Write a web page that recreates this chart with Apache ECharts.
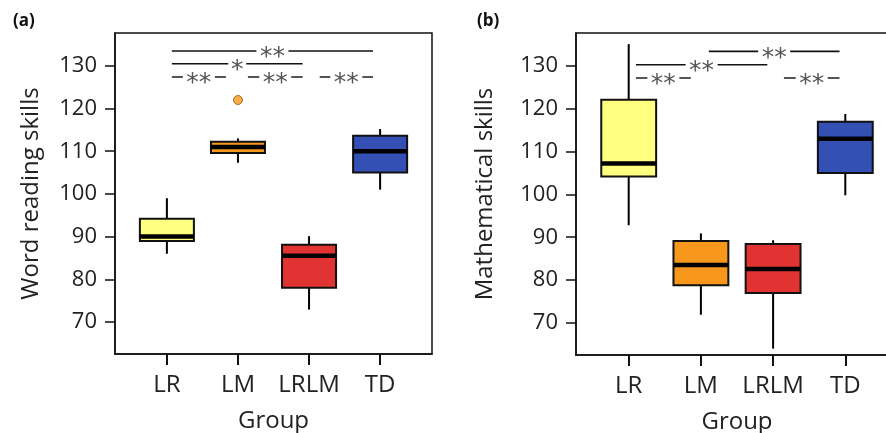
<!DOCTYPE html>
<html>
<head>
<meta charset="utf-8">
<script src="https://cdn.jsdelivr.net/npm/echarts@6/dist/echarts.min.js"></script>
<style>
  html, body { margin: 0; padding: 0; background: #fff; }
  #chart { width: 886px; height: 433px; }
</style>
</head>
<body>
<div id="chart"></div>
<script>
const categories = ['LR', 'LM', 'LRLM', 'TD']
const yTicks = [70, 80, 90, 100, 110, 120, 130]
const boxColors = ['#FFFF80', '#F7981D', '#E23333', '#3450B4']

// [lower whisker, q1, median, q3, upper whisker]
const wordBoxes = [
  [86, 89, 90, 94.2, 99],
  [107.3, 109.6, 111, 112.2, 113],
  [72.9, 78, 85.5, 88.1, 90.1],
  [101, 105, 110, 113.6, 115.2]
]
const wordOutliers = [[2, 122]]

const mathBoxes = [
  [92.8, 104.2, 107.2, 122.1, 135.1],
  [71.9, 78.8, 83.5, 89.1, 90.9],
  [64, 77, 82.6, 88.4, 89.3],
  [99.8, 105, 113, 117, 118.8]
]

// significance bars: [from, to, y, label, row type]
const wordSig = [
  [1.07, 3.9, 133.5, '**', 0],
  [1.07, 2.91, 130.5, '*', 0],
  [1.07, 1.83, 127.4, '**', 1],
  [2.14, 2.91, 127.4, '**', 1],
  [3.15, 3.9, 127.4, '**', 1]
]
const mathSig = [
  [2.11, 3.92, 133.4, '**', 0],
  [1.1, 2.92, 130.3, '**', 0],
  [1.1, 1.86, 127.2, '**', 1],
  [3.15, 3.92, 127.2, '**', 1]
]

const font = 'Open Sans'

const chart = echarts.init(document.getElementById('chart'))

function renderBox(params, api) {
  const x = api.value(0)
  const w = 0.38
  const low = api.coord([x, api.value(1)])
  const q1l = api.coord([x - w, api.value(2)])
  const med = api.value(3)
  const q3r = api.coord([x + w, api.value(4)])
  const high = api.coord([x, api.value(5)])
  const q1 = api.coord([x, api.value(2)])
  const q3 = api.coord([x, api.value(4)])
  const ml = api.coord([x - w, med])
  const mr = api.coord([x + w, med])
  const line = { stroke: '#000', lineWidth: 2 }
  return {
    type: 'group',
    children: [
      { type: 'line', shape: { x1: low[0], y1: low[1], x2: q1[0], y2: q1[1] }, style: line },
      { type: 'line', shape: { x1: q3[0], y1: q3[1], x2: high[0], y2: high[1] }, style: line },
      { type: 'rect', shape: { x: q1l[0], y: q3r[1], width: q3r[0] - q1l[0], height: q1l[1] - q3r[1] },
        style: { fill: boxColors[params.dataIndex], stroke: '#111', lineWidth: 2 } },
      { type: 'line', shape: { x1: ml[0], y1: ml[1], x2: mr[0], y2: mr[1] }, style: { stroke: '#000', lineWidth: 4.5 } }
    ]
  }
}

function renderSig(params, api, labels) {
  const a = api.coord([api.value(0), api.value(2)])
  const b = api.coord([api.value(1), api.value(2)])
  const row = api.value(4)
  const cx = (a[0] + b[0]) / 2
  const label = labels[params.dataIndex]
  const half = label.length * 7 + 2
  return {
    type: 'group',
    children: [
      { type: 'line', shape: { x1: a[0], y1: a[1], x2: b[0], y2: b[1] },
        style: { stroke: row ? '#555' : '#111', lineWidth: row ? 2 : 1.6 } },
      { type: 'rect', shape: { x: cx - half, y: a[1] - 4, width: half * 2, height: 8 }, style: { fill: '#fff' } },
      { type: 'text', x: cx, y: a[1] + 7,
        style: { text: label, fontFamily: 'DejaVu Sans', fontSize: 25, fill: '#555',
          align: 'center', verticalAlign: 'middle' } }
    ]
  }
}

function sigSeries(rows, idx) {
  const labels = rows.map(r => r[3])
  return {
    type: 'custom',
    xAxisIndex: idx, yAxisIndex: idx,
    renderItem: (params, api) => renderSig(params, api, labels),
    data: rows.map(r => [r[0], r[1], r[2], 0, r[4]]),
    z: 5, silent: true
  }
}

function xAxis(idx) {
  return {
    type: 'value', gridIndex: idx, min: 0.27, max: 4.73,
    name: 'Group', nameLocation: 'middle', nameGap: 55,
    nameTextStyle: { fontFamily: font, fontSize: 24, color: '#222' },
    axisLine: { show: true, lineStyle: { color: '#111', width: 1.5 } },
    axisTick: { show: true, length: 11, customValues: [1, 2, 3, 4], lineStyle: { color: '#111', width: 2 } },
    axisLabel: { customValues: [1, 2, 3, 4], margin: 19, fontFamily: font, fontSize: 24, color: '#222',
      formatter: v => categories[Math.round(v) - 1] },
    splitLine: { show: false }
  }
}

function yAxis(idx, name, gap) {
  return {
    type: 'value', gridIndex: idx, min: 62.5, max: 137.7,
    name: name, nameLocation: 'middle', nameGap: gap,
    nameTextStyle: { fontFamily: font, fontSize: 24, color: '#222' },
    axisLine: { show: true, lineStyle: { color: '#111', width: 1.5 } },
    axisTick: { show: true, length: 10, customValues: yTicks, lineStyle: { color: '#111', width: 1.5 } },
    axisLabel: { customValues: yTicks, margin: 18, fontFamily: font, fontSize: 22, color: '#222' },
    splitLine: { show: false }
  }
}

const option = {
  backgroundColor: '#fff',
  animation: false,
  title: [
    { text: '(a)', left: 8, top: 8, textStyle: { fontFamily: font, fontSize: 17, fontWeight: 'bold', color: '#111' } },
    { text: '(b)', left: 472, top: 8, textStyle: { fontFamily: font, fontSize: 17, fontWeight: 'bold', color: '#111' } }
  ],
  grid: [
    { left: 115, top: 33, right: 454, bottom: 79, outerBoundsMode: 'none', show: true, borderColor: '#111', borderWidth: 1.5 },
    { left: 576, top: 33, right: -12, bottom: 78, outerBoundsMode: 'none', show: true, borderColor: '#111', borderWidth: 1.5 }
  ],
  xAxis: [xAxis(0), xAxis(1)],
  yAxis: [yAxis(0, 'Word reading skills', 72), yAxis(1, 'Mathematical skills', 79)],
  series: [
    {
      type: 'custom', xAxisIndex: 0, yAxisIndex: 0, renderItem: renderBox,
      data: wordBoxes.map((b, i) => [i + 1, ...b]), z: 3
    },
    {
      type: 'scatter', xAxisIndex: 0, yAxisIndex: 0, data: wordOutliers,
      symbol: 'circle', symbolSize: 9,
      itemStyle: { color: boxColors[1], borderColor: '#8a5a10', borderWidth: 1 }, z: 4
    },
    {
      type: 'custom', xAxisIndex: 1, yAxisIndex: 1, renderItem: renderBox,
      data: mathBoxes.map((b, i) => [i + 1, ...b]), z: 3
    },
    sigSeries(wordSig, 0),
    sigSeries(mathSig, 1)
  ]
}

option && chart.setOption(option)
</script>
</body>
</html>
